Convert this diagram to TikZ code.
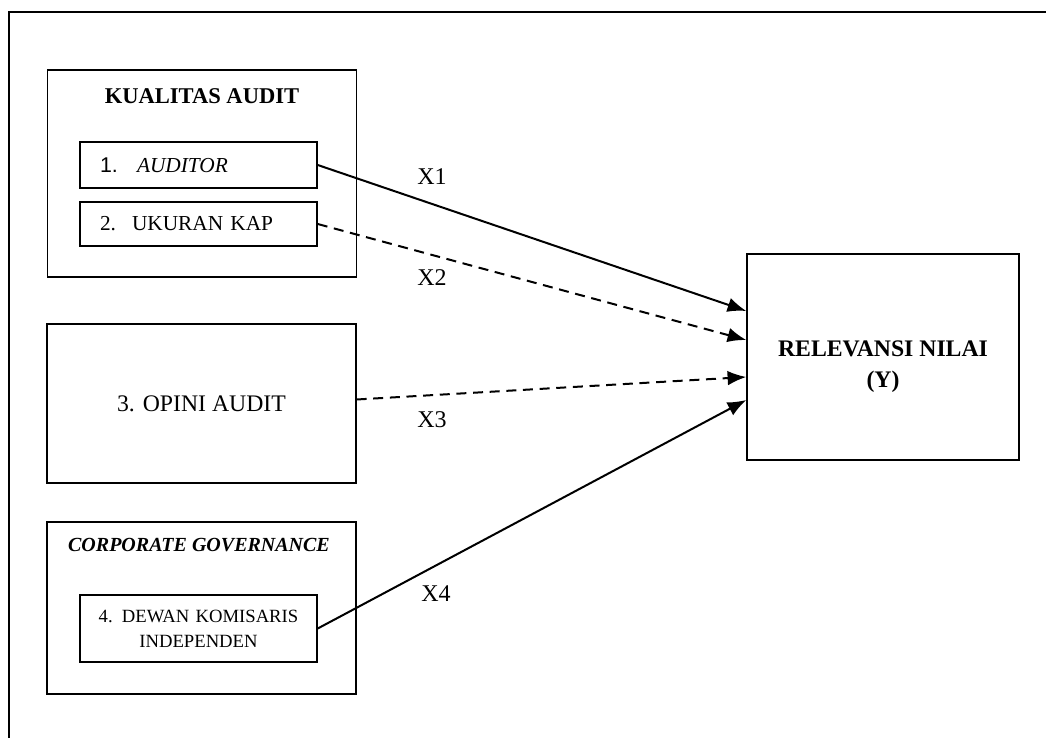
\documentclass[tikz,border=0pt]{standalone}
\usepackage{fontspec}
\setmainfont{Liberation Serif}
\newfontfamily\numfont{Liberation Sans}
\usetikzlibrary{arrows.meta,calc}
\tikzset{
  dashlink/.style={dash pattern=on 7.5pt off 5pt},
  itembox/.style={draw=black, line width=1.1pt, minimum width=177.75pt, text width=147.75pt,
    inner xsep=15pt, align=left, font=\fontsize{16}{19}\selectfont},
}
\begin{document}
\begin{tikzpicture}[x=0.75pt, y=-0.75pt]
  \useasboundingbox (0,0) rectangle (1046,738);
  \draw[line width=1.2pt] (9,738) -- (9,12) -- (1046,12);
  \begin{scope}[every node/.style={draw=black, line width=1.1pt, minimum width=231.5pt}]
    \node[minimum height=155.25pt] (kual) at (202,173.5) {};
    \node[minimum height=119.25pt, font=\fontsize{17.8}{21}\selectfont] (opini) at (201.5,403.5) {3. OPINI AUDIT};
    \node[minimum height=129pt] (corp) at (201.5,608) {};
  \end{scope}
  \node[font=\fontsize{16.9}{20}\selectfont\bfseries] (kualtitle) at (202,96) {KUALITAS AUDIT};
  \node[font=\fontsize{15}{18}\selectfont\bfseries\itshape] (corptitle) at (199,545) {CORPORATE GOVERNANCE};
  \node[itembox, minimum height=34.5pt] (aud) at (198.5,165)
    {\makebox[27.75pt][l]{\numfont 1.}\textit{AUDITOR}};
  \node[itembox, minimum height=33pt] (kap) at (198.5,224)
    {\makebox[24pt][l]{2.}UKURAN KAP};
  \node[itembox, minimum height=50.25pt, inner xsep=3pt, text width=171pt, align=center,
    font=\fontsize{14}{18.75}\selectfont] (dewan) at (198.5,628.5)
    {4. DEWAN KOMISARIS\\INDEPENDEN};
  \node[draw=black, line width=1.1pt, minimum width=204pt, minimum height=154.5pt] (rel) at (883,357) {};
  \node[align=center, font=\fontsize{17.8}{23.5}\selectfont\bfseries] (reltext) at (883,367) {RELEVANSI NILAI\\(Y)};
  \begin{scope}[every edge/.style={draw=black, line width=1.5pt, -{Latex[length=14pt,width=11pt]}}]
    \path (aud.east) edge ($(rel.west)+(0,-46)$);
    \path (kap.east) edge[dashlink] ($(rel.west)+(0,-17)$);
    \path ($(opini.east)+(0,-4)$) edge[dashlink] ($(rel.west)+(0,20)$);
    \path (dewan.east) edge ($(rel.west)+(0,43)$);
  \end{scope}
  \begin{scope}[every node/.style={font=\fontsize{18}{21}\selectfont}]
    \node (x1) at (432,177) {X1};
    \node (x2) at (432,278) {X2};
    \node (x3) at (432,420) {X3};
    \node (x4) at (436,594) {X4};
  \end{scope}
\end{tikzpicture}
\end{document}
